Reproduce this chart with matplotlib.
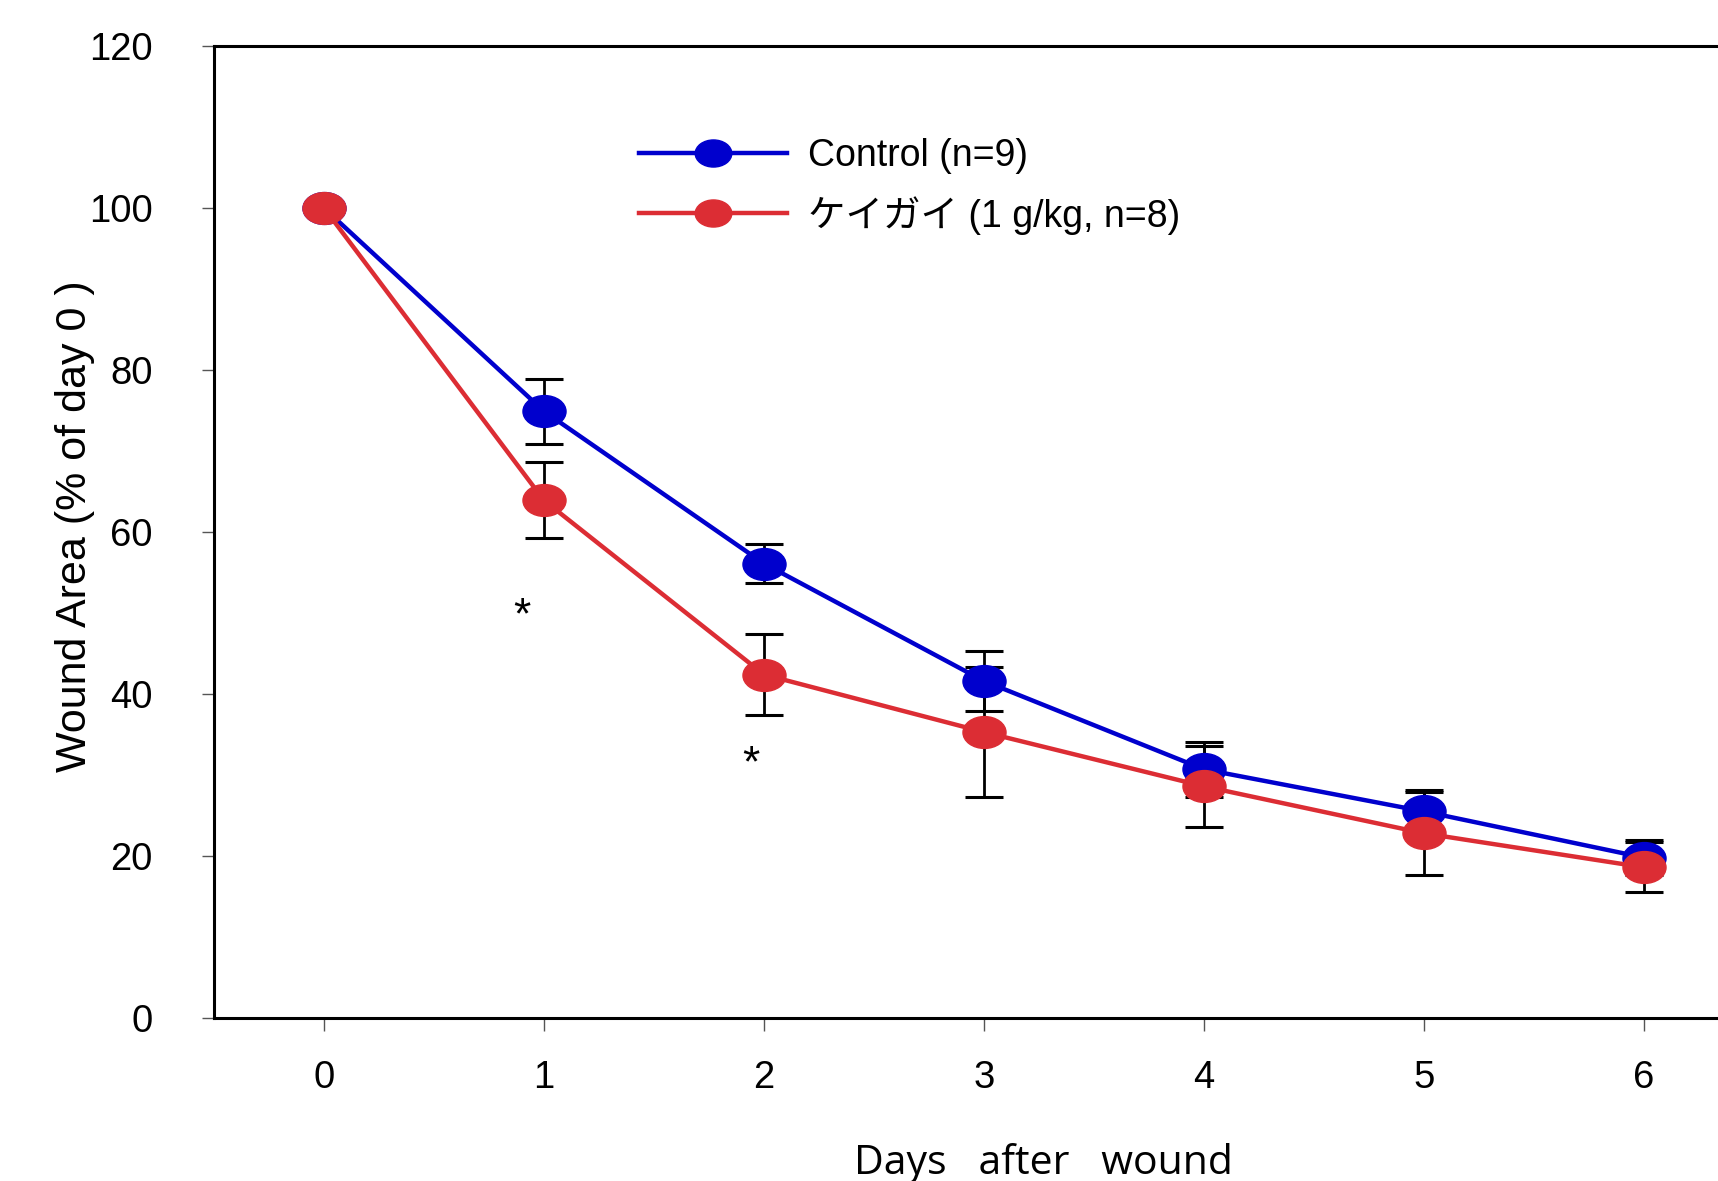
import matplotlib
matplotlib.use("Agg")
import matplotlib.pyplot as plt
import matplotlib.transforms as mtransforms
from matplotlib.path import Path

days = [0, 1, 2, 3, 4, 5, 6]
control = [100, 74.9, 56.1, 41.6, 30.7, 25.5, 19.8]
control_err = [0, 4.0, 2.4, 3.7, 3.4, 2.7, 2.2]
keigai = [100, 63.9, 42.4, 35.3, 28.6, 22.8, 18.6]
keigai_err = [0, 4.7, 5.0, 8.0, 5.0, 5.1, 3.1]
labels = ["Control (n=9)", "ケイガイ (1 g/kg, n=8)"]
yticks = [0, 20, 40, 60, 80, 100, 120]
star_pos = [(0.9, 51.0), (1.94, 32.7)]

plt.rcParams['font.family'] = ['Liberation Sans', 'Noto Sans CJK JP', 'DejaVu Sans']

W, H = 1718, 1181
fig = plt.figure(figsize=(W / 100, H / 100), dpi=100)
left = 214 / W
bottom = (H - 1018) / H
top = (H - 46) / H
width = 1540 / W
ax = fig.add_axes([left, bottom, width, top - bottom])

ell = Path.unit_circle().transformed(mtransforms.Affine2D().scale(1.0, 0.74))

blue = '#0000cd'
red = '#dc2d34'

for y, e in [(control, control_err), (keigai, keigai_err)]:
    xs = [d for d, ee in zip(days, e) if ee > 0]
    ys = [v for v, ee in zip(y, e) if ee > 0]
    es = [ee for ee in e if ee > 0]
    ax.errorbar(xs, ys, yerr=es, fmt='none', ecolor='black', elinewidth=2.0,
                capsize=14, capthick=2.2, zorder=2)

l1, = ax.plot(days, control, color=blue, lw=3.2, marker=ell, markersize=31,
              markerfacecolor=blue, markeredgecolor=blue, zorder=3, label=labels[0])
l2, = ax.plot(days, keigai, color=red, lw=3.2, marker=ell, markersize=31,
              markerfacecolor=red, markeredgecolor=red, zorder=4, label=labels[1])

for (sx, sy) in star_pos:
    ax.text(sx, sy - 1.5, '*', fontsize=32, ha='center', va='center', color='black')

ax.set_xlim(-0.5, 6.5)
ax.set_ylim(0, 120)
ax.set_xticks(days)
ax.set_yticks(yticks)
ax.tick_params(axis='both', labelsize=27.5, colors='black', width=1.0, length=9)
ax.tick_params(axis='x', pad=21, color='#555555')
ax.tick_params(axis='y', pad=35, color='#555555')
for sp in ax.spines.values():
    sp.set_linewidth(2.2)
    sp.set_color('black')

fig.text(75 / W, 1 - 526 / H, 'Wound Area (% of day 0 )', rotation=90,
         ha='center', va='center', fontsize=31)
fig.text(1043 / W, 1 - 1164 / H, 'Days   after   wound', ha='center', va='center',
         fontsize=29.5, family=['Open Sans', 'DejaVu Sans'])

leg = fig.legend(handles=[l1, l2], loc='center left',
                 bbox_to_anchor=(639 / W, 1 - 186.5 / H), frameon=False,
                 fontsize=27, handlelength=3.95, handletextpad=0.56,
                 labelspacing=0.57, borderpad=0, borderaxespad=0, markerscale=0.85)

fig.savefig('out.png', dpi=100)
